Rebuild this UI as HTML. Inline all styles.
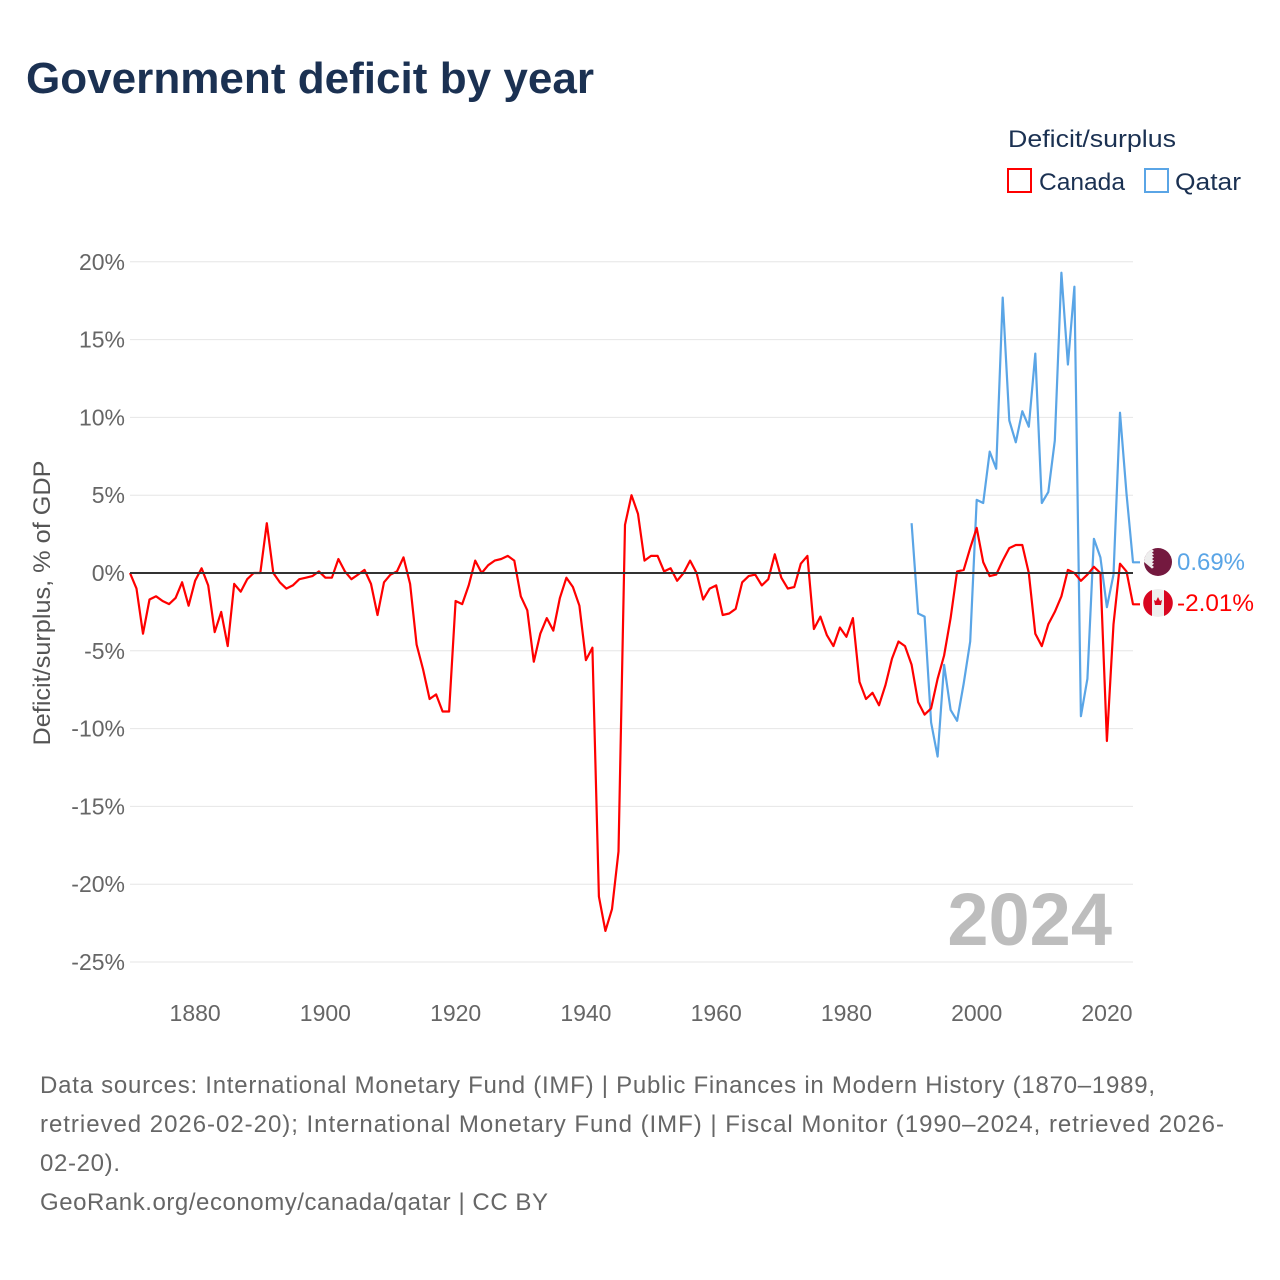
<!DOCTYPE html>
<html><head><meta charset="utf-8"><style>
html,body{margin:0;padding:0;background:#fff;}
svg{display:block;font-family:"Liberation Sans",sans-serif;}
</style></head><body>
<svg id="chart" width="1280" height="1280" viewBox="0 0 1280 1280" xmlns="http://www.w3.org/2000/svg">
<rect width="1280" height="1280" fill="#fff"/>
<text x="26" y="93" font-size="44" font-weight="bold" fill="#1b3152" textLength="568" lengthAdjust="spacingAndGlyphs">Government deficit by year</text>
<text x="1008" y="147" font-size="24" fill="#1b3152" textLength="168" lengthAdjust="spacingAndGlyphs">Deficit/surplus</text>
<g>
<rect x="1008" y="169" width="23" height="23" fill="none" stroke="#ff0000" stroke-width="2"/>
<text x="1039" y="190" font-size="24" fill="#1b3152" textLength="86" lengthAdjust="spacingAndGlyphs">Canada</text>
</g>
<g>
<rect x="1145" y="169" width="23" height="23" fill="none" stroke="#5aa5e6" stroke-width="2"/>
<text x="1175" y="190" font-size="24" fill="#1b3152" textLength="66" lengthAdjust="spacingAndGlyphs">Qatar</text>
</g>
<g id="grid"></g>
<g id="yticks"></g>
<g id="xticks"></g>
<text transform="translate(50,603) rotate(-90)" text-anchor="middle" font-size="24" fill="#555" textLength="285" lengthAdjust="spacingAndGlyphs">Deficit/surplus, % of GDP</text>
<text x="1112" y="945" text-anchor="end" font-size="74" font-weight="bold" fill="#bdbdbd">2024</text>
<g id="series"></g>
<g>
<circle cx="1158" cy="562" r="14" fill="#74193f"/>
<path d="M1144,562 a14,14 0 0 1 8,-12.6 l2,1.6 -2,1.6 2,1.6 -2,1.6 2,1.6 -2,1.6 2,1.6 -2,1.6 2,1.6 -2,1.6 2,1.6 -2,1.6 z" fill="#eee"/>
<text x="1177" y="570" font-size="24" fill="#5aa5e6" textLength="68" lengthAdjust="spacingAndGlyphs">0.69%</text>
</g>
<g>
<circle cx="1158" cy="603" r="14" fill="#eee"/>
<path d="M1152,590 a14,14 0 0 0 0,26 z M1164,590 a14,14 0 0 1 0,26 z" fill="#d80621"/>
<path d="M1158,597 l2,4 2,-1 -1,5 -3,0 -3,0 -1,-5 2,1 z" fill="#d80621"/>
<text x="1177" y="611" font-size="24" fill="#ff0000" textLength="77" lengthAdjust="spacingAndGlyphs">-2.01%</text>
</g>
<text font-size="24" fill="#666" lengthAdjust="spacingAndGlyphs">
<tspan x="40" y="1093" textLength="1115">Data sources: International Monetary Fund (IMF) | Public Finances in Modern History (1870–1989,</tspan>
<tspan x="40" y="1132" textLength="1184">retrieved 2026-02-20); International Monetary Fund (IMF) | Fiscal Monitor (1990–2024, retrieved 2026-</tspan>
<tspan x="40" y="1171" textLength="80">02-20).</tspan>
<tspan x="40" y="1210" textLength="508">GeoRank.org/economy/canada/qatar | CC BY</tspan>
</text>
</svg>
<script>
const canadaStart = 1870;
const canadaValues = [0,-1.0,-3.9,-1.7,-1.5,-1.8,-2.0,-1.6,-0.6,-2.1,-0.5,0.3,-0.8,-3.8,-2.5,-4.7,-0.7,-1.2,-0.4,0,0,3.2,0,-0.6,-1.0,-0.8,-0.4,-0.3,-0.2,0.1,-0.3,-0.3,0.9,0.1,-0.4,-0.1,0.2,-0.7,-2.7,-0.6,-0.1,0.1,1.0,-0.7,-4.6,-6.2,-8.1,-7.8,-8.9,-8.9,-1.8,-2.0,-0.8,0.8,0,0.5,0.8,0.9,1.1,0.8,-1.5,-2.4,-5.7,-3.9,-2.9,-3.7,-1.6,-0.3,-0.9,-2.1,-5.6,-4.8,-20.8,-23.0,-21.6,-17.9,3.1,5.0,3.8,0.8,1.1,1.1,0.1,0.3,-0.5,0,0.8,0,-1.7,-1.0,-0.8,-2.7,-2.6,-2.3,-0.6,-0.2,-0.1,-0.8,-0.4,1.2,-0.3,-1.0,-0.9,0.6,1.1,-3.6,-2.8,-4.0,-4.7,-3.5,-4.1,-2.9,-7.0,-8.1,-7.7,-8.5,-7.2,-5.5,-4.4,-4.7,-5.9,-8.3,-9.1,-8.7,-6.8,-5.3,-2.9,0.1,0.2,1.6,2.9,0.7,-0.2,-0.1,0.8,1.6,1.8,1.8,0.0,-3.9,-4.7,-3.3,-2.5,-1.5,0.2,0.0,-0.5,-0.1,0.4,0.0,-10.8,-3.3,0.6,0.1,-2.01];
const qatarStart = 1990;
const qatarValues = [3.2,-2.6,-2.8,-9.6,-11.8,-5.9,-8.8,-9.5,-7.1,-4.4,4.7,4.5,7.8,6.7,17.7,9.8,8.4,10.4,9.4,14.1,4.5,5.2,8.5,19.3,13.4,18.4,-9.2,-6.8,2.2,1.0,-2.2,-0.1,10.3,5.1,0.69];
const yTicks = [20,15,10,5,0,-5,-10,-15,-20,-25];
const xTicks = [1880,1900,1920,1940,1960,1980,2000,2020];

const NS = "http://www.w3.org/2000/svg";
const X0 = 130, X1 = 1133, Y0 = 573;
const xScale = yr => X0 + (yr - 1870) * (X1 - X0) / 154;
const yScale = v => Y0 - v * 15.56;
function mk(tag, attrs, parent){const e=document.createElementNS(NS,tag);for(const k in attrs)e.setAttribute(k,attrs[k]);parent.appendChild(e);return e;}

const grid = document.getElementById('grid');
const yt = document.getElementById('yticks');
yTicks.forEach(v=>{
  if(v!==0){
    const l = mk('line',{x1:130,x2:1133,y1:yScale(v),y2:yScale(v),stroke:'#e6e6e6','stroke-width':1},grid);
    
    
  }
  const t = mk('text',{x:125,y:yScale(v)+8,'text-anchor':'end','font-size':23,fill:'#666'},yt);
  t.textContent = v + '%';
  
  
});
const xt = document.getElementById('xticks');
xTicks.forEach(yr=>{
  const t = mk('text',{x:xScale(yr),y:1021,'text-anchor':'middle','font-size':23,fill:'#666'},xt);
  t.textContent = yr;
  
  
});
const ser = document.getElementById('series');
function pts(start, vals){return vals.map((v,i)=>xScale(start+i).toFixed(1)+','+yScale(v).toFixed(1)).join(' ');}
const q = mk('polyline',{points:pts(qatarStart,qatarValues)+' 1140,'+yScale(qatarValues[qatarValues.length-1]).toFixed(1),fill:'none',stroke:'#5aa5e6','stroke-width':2.2,'stroke-linejoin':'round'},ser);


const c = mk('polyline',{points:pts(canadaStart,canadaValues)+' 1140,'+yScale(canadaValues[canadaValues.length-1]).toFixed(1),fill:'none',stroke:'#ff0000','stroke-width':2.2,'stroke-linejoin':'round'},ser);


const z = mk('line',{x1:130,x2:1133,y1:Y0,y2:Y0,stroke:'#333','stroke-width':2},ser);


</script>
</body></html>
